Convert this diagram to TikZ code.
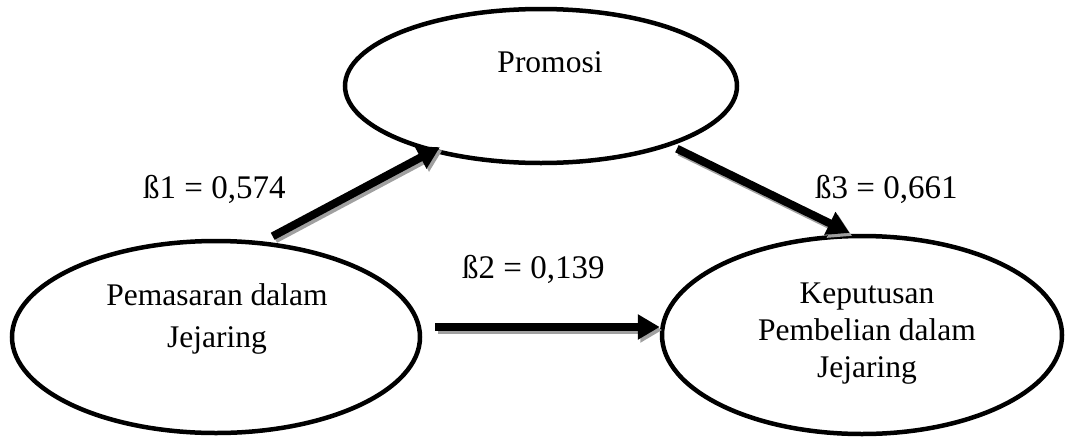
\documentclass[tikz,border=0pt]{standalone}
\usepackage{fontspec}
\setmainfont{Liberation Serif}
\usetikzlibrary{shapes.geometric,arrows.meta}
\definecolor{shadowgray}{HTML}{A0A0A0}
\tikzset{
  oval/.style={draw=black, line width=4.5pt, ellipse, inner sep=0pt, fill=white},
  intext/.style={anchor=base, inner sep=0pt, font=\fontsize{31.5}{36}\selectfont},
  coef/.style={anchor=base west, inner sep=0pt, font=\fontsize{33}{38}\selectfont},
  pathshadow/.style={shadowgray, line width=8pt, -{Triangle[length=22pt,width=24pt]}, transform canvas={shift={(2.5pt,-3pt)}}},
  patharrow/.style={black, line width=8pt, -{Triangle[length=22pt,width=24pt]}}
}
\begin{document}
\begin{tikzpicture}[x=1pt,y=-1pt]
\useasboundingbox (0,0) rectangle (1066,437);
% ellipses
\node[oval, minimum width=392pt, minimum height=154pt] (pro) at (541,86) {};
\node[oval, minimum width=408pt, minimum height=192pt] (pem) at (216,337) {};
\node[oval, minimum width=400pt, minimum height=198pt] (kep) at (862,335) {};
% texts
\node[intext] (pro-t) at (550,72) {Promosi};
\node[intext] (pem-t1) at (217,305) {Pemasaran dalam};
\node[intext] (pem-t2) at (217,347) {Jejaring};
\node[intext] (kep-t1) at (867,303) {Keputusan};
\node[intext] (kep-t2) at (867,340) {Pembelian dalam};
\node[intext] (kep-t3) at (867,377) {Jejaring};
% connector end points
\coordinate (a1s) at ([shift={(2,-6)}]pem.60);
\coordinate (a1e) at ([shift={(0,-7)}]pro.214);
\coordinate (a2s) at ([shift={(13,-10)}]pem.east);
\coordinate (a2e) at (a2s -| kep.west);
\coordinate (a3s) at ([shift={(0,5)}]pro.-23);
\coordinate (a3e) at ([shift={(0,-1)}]kep.97);
% shadows
\draw[pathshadow] (a1s) -- (a1e);
\draw[pathshadow] (a2s) -- (a2e);
\draw[pathshadow] (a3s) -- (a3e);
% arrows
\draw[patharrow] (a1s) -- (a1e);
\draw[patharrow] (a2s) -- (a2e);
\draw[patharrow] (a3s) -- (a3e);
% coefficients
\node[coef] (b1) at (143,198) {ß1 = 0,574};
\node[coef] (b2) at (462,278) {ß2 = 0,139};
\node[coef] (b3) at (815,198) {ß3 = 0,661};
\end{tikzpicture}
\end{document}
